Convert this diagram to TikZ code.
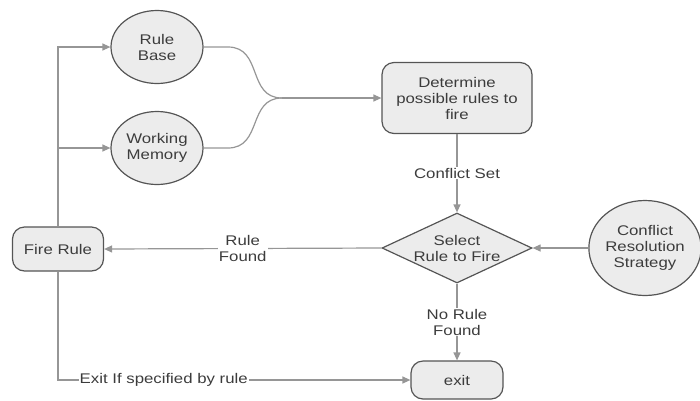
\documentclass[tikz,border=0pt]{standalone}
\usepackage{fontspec}
\setmainfont{Liberation Sans}[FakeStretch=1.2]
\usetikzlibrary{shapes.geometric,arrows.meta}
\definecolor{linegray}{RGB}{150,150,150}
\definecolor{edgegray}{RGB}{85,85,85}
\definecolor{boxfill}{RGB}{236,236,236}
\definecolor{textgray}{RGB}{60,60,60}
\begin{document}
\begin{tikzpicture}[x=1pt,y=-1pt,
  every node/.style={font=\fontsize{14}{16}\selectfont,text=textgray,align=center},
  store/.style={ellipse,draw=edgegray,line width=1.2pt,fill=boxfill,inner sep=0pt},
  process/.style={rectangle,rounded corners=12pt,draw=edgegray,line width=1.2pt,fill=boxfill,inner sep=0pt},
  choice/.style={diamond,draw=edgegray,line width=1.2pt,fill=boxfill,inner sep=0pt,aspect=2.14},
  wire/.style={linegray,line width=1.2pt},
  flow/.style={wire,-{Triangle[length=8pt,width=7pt]}},
  tag/.style={fill=white,inner sep=1pt}]
  \useasboundingbox (0,0) rectangle (700,400);

  %nodes
  \node[store,minimum width=92,minimum height=73] (rulebase) at (157,47) {Rule\\Base};
  \node[store,minimum width=92,minimum height=73] (workmem) at (157,148) {Working\\Memory};
  \node[process,minimum width=150,minimum height=71] (determine) at (457,98) {Determine\\possible rules to\\fire};
  \node[choice,minimum width=150,minimum height=70] (select) at (457,248) {Select\\Rule to Fire};
  \node[store,minimum width=112,minimum height=95] (strategy) at (645,248) {Conflict\\Resolution\\Strategy};
  \node[process,minimum width=91,minimum height=44] (fire) at (58,249) {Fire Rule};
  \node[process,minimum width=92,minimum height=38] (exit) at (457,380) {exit};

  %merge into determine
  \coordinate (merge) at (282,98);
  \draw[wire] (rulebase.east) -- (228,47) to[out=0,in=180,looseness=1.2] (merge);
  \draw[wire] (workmem.east) -- (228,148) to[out=0,in=180,looseness=1.2] (merge);
  \draw[flow] (merge) -- (determine.west);

  %main cycle
  \draw[flow] (determine.south) -- node[tag] {Conflict Set} (select.north);
  \draw[flow] (strategy.west) -- (select.east);
  \draw[flow] (select.west) -- node[tag] {Rule\\Found} (fire.east);
  \draw[flow] (select.south) -- node[tag] {No Rule\\Found} (exit.north);

  %back from fire rule
  \draw[flow] (fire.north) |- (rulebase.west);
  \draw[flow] (fire.north) |- (workmem.west);
  \draw[flow] (fire.south) |- node[tag,pos=0.65] {Exit If specified by rule} (exit.west);
\end{tikzpicture}
\end{document}
